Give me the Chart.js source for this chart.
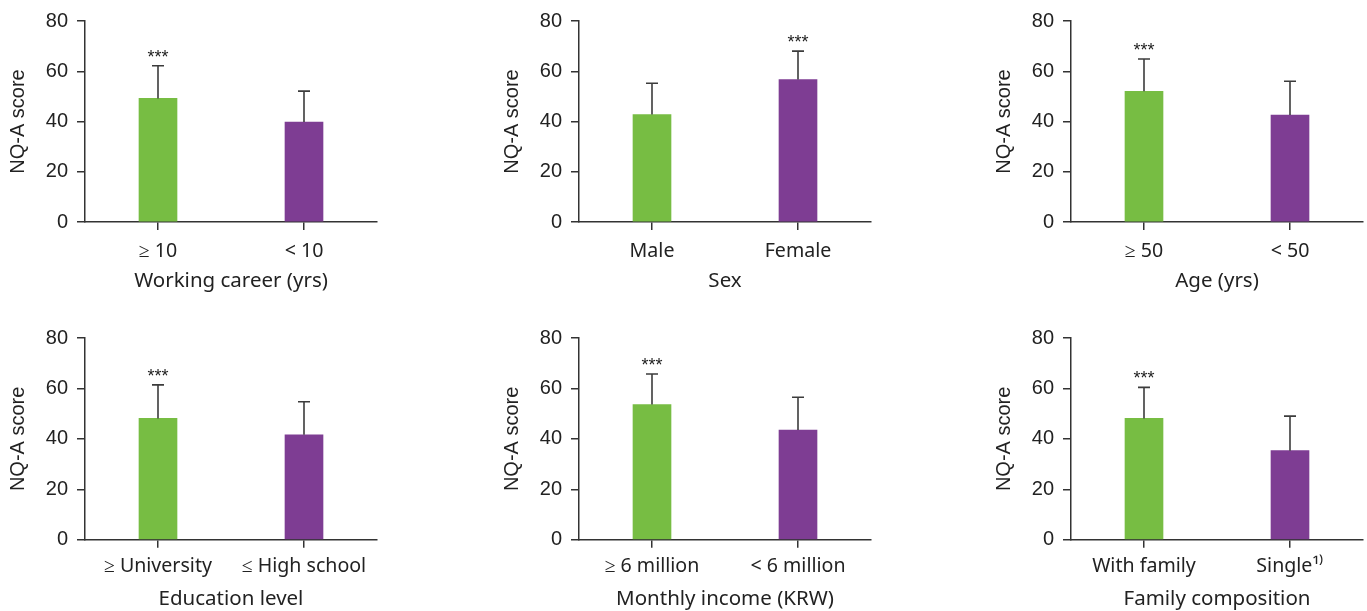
<!DOCTYPE html>
<html>
<head>
<meta charset="utf-8">
<script src="https://cdn.jsdelivr.net/npm/chart.js@4"></script>
<style>
  html, body { margin: 0; padding: 0; background: #fff; }
  #page { position: relative; width: 1367px; height: 611px; overflow: hidden; }
  #page canvas { position: absolute; }
</style>
</head>
<body>
<div id="page"></div>
<script>
// chart data, one entry per panel (row by row, left to right)
const groupTitles = ['Working career (yrs)', 'Sex', 'Age (yrs)', 'Education level', 'Monthly income (KRW)', 'Family composition'];
const groupLabels = [
    ['≥ 10', '< 10'],
    ['Male', 'Female'],
    ['≥ 50', '< 50'],
    ['≥ University', '≤ High school'],
    ['≥ 6 million', '< 6 million'],
    ['With family', 'Single¹⁾']
];
const meanScores = [[49.2, 39.8], [42.8, 56.7], [52.0, 42.6], [48.1, 41.6], [53.6, 43.5], [48.1, 35.3]];
const sdScores = [[13.0, 12.3], [12.4, 11.3], [12.9, 13.4], [13.3, 13.1], [12.1, 13.0], [12.3, 13.7]];
const sigMarks = [['***', ''], ['', '***'], ['***', ''], ['***', ''], ['***', ''], ['***', '']];
const yTicks = [0, 20, 40, 60, 80];

const barColors = ['#77bd43', '#7e3d93'];
const axisColor = '#333333';
const textColor = '#222222';

// panel placement on the page
const colLeft = [0, 494, 986];
const rowTop = [0, 317];
const rowHeight = [300, 294];
const rowPad = [19, 19.3];
const rowAxisH = [78, 71.3];
const rowTickPad = [10, 7];
const rowTitlePad = [6.6, 0];

// draws the upward error bars and significance stars
const errorBarPlugin = {
    id: 'errorBars',
    afterDatasetsDraw(chart, args, opts) {
        const meta = chart.getDatasetMeta(0);
        const yScale = chart.scales.y;
        const ctx = chart.ctx;
        ctx.save();
        ctx.strokeStyle = '#3c3c3c';
        ctx.lineWidth = 1.6;
        meta.data.forEach(function (bar, i) {
            const top = yScale.getPixelForValue(opts.means[i] + opts.sds[i]);
            ctx.beginPath();
            ctx.moveTo(bar.x, bar.y);
            ctx.lineTo(bar.x, top);
            ctx.moveTo(bar.x - 6, top);
            ctx.lineTo(bar.x + 6, top);
            ctx.stroke();
            if (opts.marks[i]) {
                ctx.fillStyle = textColor;
                ctx.font = '18px "Liberation Sans"';
                ctx.textAlign = 'center';
                ctx.textBaseline = 'middle';
                ctx.fillText(opts.marks[i], bar.x, top - 8);
            }
        });
        ctx.restore();
    }
};

const page = document.getElementById('page');

for (let i = 0; i < 6; i++) {
    const row = Math.floor(i / 3);
    const col = i % 3;
    const canvas = document.createElement('canvas');
    canvas.width = 380;
    canvas.height = rowHeight[row];
    canvas.style.left = colLeft[col] + 'px';
    canvas.style.top = rowTop[row] + 'px';
    page.appendChild(canvas);

    new Chart(canvas.getContext('2d'), {
        type: 'bar',
        data: {
            labels: groupLabels[i],
            datasets: [{
                data: meanScores[i],
                backgroundColor: barColors,
                borderWidth: 0,
                barThickness: 38
            }]
        },
        options: {
            responsive: false,
            animation: false,
            layout: { padding: { top: rowPad[row], right: 3, bottom: 0, left: 0 } },
            plugins: {
                legend: { display: false },
                tooltip: { enabled: false },
                errorBars: { means: meanScores[i], sds: sdScores[i], marks: sigMarks[i] }
            },
            scales: {
                x: {
                    grid: { drawOnChartArea: false, offset: false, tickLength: 8, color: axisColor, lineWidth: 1.5 },
                    border: { color: axisColor, width: 1.5 },
                    ticks: { padding: rowTickPad[row], color: textColor, font: { family: '"Noto Sans"', size: 19.6 }, maxRotation: 0 },
                    title: {
                        display: true,
                        text: groupTitles[i],
                        color: textColor,
                        font: { family: '"Noto Sans"', size: 20.5 },
                        padding: { top: 0, bottom: rowTitlePad[row] }
                    },
                    afterFit: function (scale) { scale.height = rowAxisH[row]; }
                },
                y: {
                    min: 0,
                    max: 80,
                    afterBuildTicks: function (scale) { scale.ticks = yTicks.map(v => ({ value: v })); },
                    grid: { drawOnChartArea: false, tickLength: 8, color: axisColor, lineWidth: 1.5 },
                    border: { color: axisColor, width: 1.5 },
                    ticks: { padding: 9, color: textColor, font: { family: '"Liberation Sans"', size: 20 } },
                    title: {
                        display: true,
                        text: 'NQ-A score',
                        color: textColor,
                        font: { family: '"Liberation Sans"', size: 20 },
                        padding: { top: 6, bottom: 0 }
                    },
                    afterFit: function (scale) { scale.width = 85; }
                }
            }
        },
        plugins: [errorBarPlugin]
    });
}
</script>
</body>
</html>
